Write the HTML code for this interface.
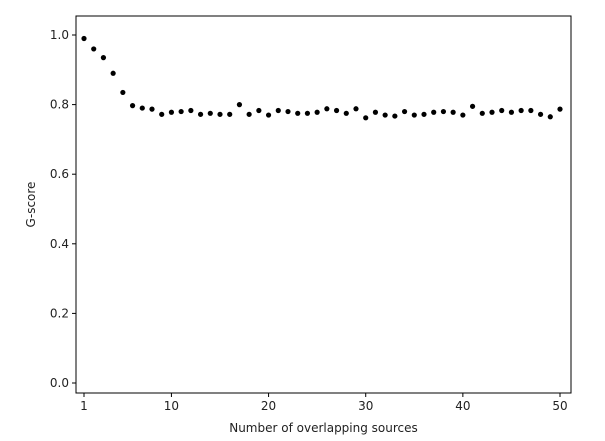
<!DOCTYPE html>
<html><head><meta charset="utf-8"><style>
body{margin:0;background:#fff;}
svg{display:block;font-family:"DejaVu Sans","Liberation Sans",sans-serif;}
</style></head><body>
<svg id="chart" width="605" height="441">
<rect x="0" y="0" width="605" height="441" fill="#fff"/>
<g id="marks"></g>
<g id="axes"></g>
</svg>
<script>
const xValues=[1,2,3,4,5,6,7,8,9,10,11,12,13,14,15,16,17,18,19,20,21,22,23,24,25,26,27,28,29,30,31,32,33,34,35,36,37,38,39,40,41,42,43,44,45,46,47,48,49,50];
const gScores=[0.99,0.96,0.935,0.89,0.835,0.797,0.79,0.787,0.772,0.778,0.78,0.783,0.772,0.775,0.772,0.772,0.8,0.772,0.783,0.77,0.783,0.78,0.775,0.775,0.778,0.788,0.783,0.775,0.788,0.762,0.778,0.77,0.767,0.78,0.77,0.772,0.778,0.78,0.778,0.77,0.795,0.775,0.778,0.783,0.778,0.783,0.783,0.772,0.765,0.787];
const xTicks=[1,10,20,30,40,50];
const yTicks=[0.0,0.2,0.4,0.6,0.8,1.0];
const NS="http://www.w3.org/2000/svg";
const L=76,R=571,T=16,B=393;
const xS=v=>84+(v-1)*(560-84)/49;
const yS=v=>383-v*348;
function mk(tag,attrs,parent){const e=document.createElementNS(NS,tag);for(const k in attrs)e.setAttribute(k,attrs[k]);parent.appendChild(e);return e;}
const marks=document.getElementById('marks'),axes=document.getElementById('axes');
xValues.forEach((x,i)=>{
 const c=mk('circle',{cx:xS(x),cy:yS(gScores[i]),r:2.6,fill:'#000'},marks);
 
 
});
const frame=mk('rect',{x:L,y:T,width:R-L,height:B-T,fill:'none',stroke:'#000','stroke-width':1},axes);


xTicks.forEach(t=>{
 mk('line',{x1:xS(t),x2:xS(t),y1:B,y2:B+4,stroke:'#000'},axes);
 const tx=mk('text',{x:xS(t),y:B+17,'text-anchor':'middle','font-size':12,fill:'#222'},axes);
 tx.textContent=t;
 
 
});
yTicks.forEach(t=>{
 mk('line',{x1:L-4,x2:L,y1:yS(t),y2:yS(t),stroke:'#000'},axes);
 const tx=mk('text',{x:L-7,y:yS(t)+4,'text-anchor':'end','font-size':12,fill:'#222'},axes);
 tx.textContent=t.toFixed(1);
 
 
});
const xt=mk('text',{x:(L+R)/2,y:432,'text-anchor':'middle','font-size':12,fill:'#222'},axes);
xt.textContent='Number of overlapping sources';


const yt=mk('text',{x:0,y:0,'text-anchor':'middle','font-size':12,fill:'#222',transform:'translate(35,'+((T+B)/2)+') rotate(-90)'},axes);
yt.textContent='G-score';


</script>
</body></html>
